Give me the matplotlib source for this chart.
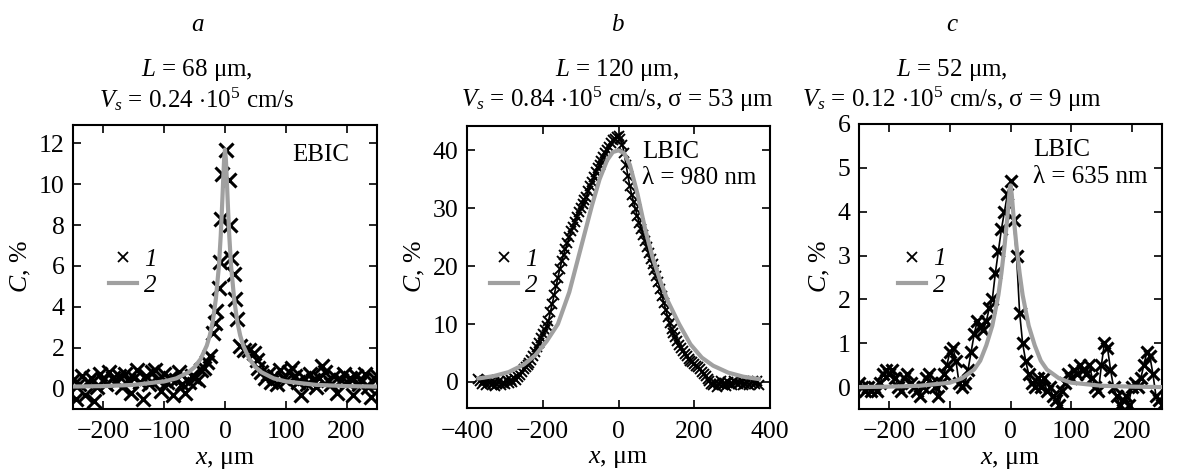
import numpy as np
import matplotlib
matplotlib.use('Agg')
import matplotlib.pyplot as plt
from matplotlib.lines import Line2D

plt.rcParams['font.family'] = ['Liberation Serif', 'DejaVu Serif']
plt.rcParams['mathtext.fontset'] = 'custom'
plt.rcParams['mathtext.rm'] = 'Liberation Serif'
plt.rcParams['mathtext.it'] = 'Liberation Serif:italic'
plt.rcParams['font.size'] = 18

# ---- panel a (EBIC) ----
xa_left = np.arange(-250, -54, 5)
ya_left = [0.4, -0.5, 0.2, 0.6, -0.3, 0.3, 0.5, -0.6, 0.1, 0.7,
           0.4, 0.2, 0.8, 0.5, 0.3, 0.6, 0.1, 0.7, 0.4, -0.2,
           0.5, 0.9, 0.3, -0.5, 0.6, 0.2, 0.8, 0.9, 0.4, -0.1,
           0.7, 0.3, 0.5, -0.3, 0.4, 0.8, 0.2, -0.2, 0.3, 0.6]
xa_mid = [-50, -45, -40, -35, -30, -25, -20, -16, -14, -10, -9, -7, -5,
          2, 7, 8, 10, 15, 17, 20, 25, 32, 40, 47, 52]
ya_mid = [0.5, 0.4, 0.9, 1.0, 1.3, 1.6, 2.7, 3.2, 3.8, 4.9, 6.2, 8.3, 10.5,
          11.7, 10.2, 8.0, 6.4, 5.6, 4.4, 3.4, 2.1, 1.9, 1.9, 1.75, 1.4]
xa_right = np.arange(55, 251, 5)
ya_right = [1.0, 0.8, 0.5, 0.7, 0.3, 0.6, 0.2, 0.9, 0.5, 0.4,
            0.8, 1.0, 0.6, 0.3, -0.3, 0.5, 0.2, 0.7, 0.4, 0.1,
            0.5, 1.1, 0.8, 0.4, 0.2, 0.6, -0.2, 0.4, 0.7, 0.3,
            0.5, -0.3, 0.6, 0.2, 0.4, 0.7, 0.1, -0.4, 0.5, 0.6]
xa = np.concatenate([xa_left, xa_mid, xa_right])
ya = np.concatenate([ya_left, ya_mid, ya_right])

fit_xa = [-250, -200, -150, -100, -80, -60, -50, -40, -30, -25, -20, -15, -10, -7, -5, -3, -1.5, 0,
          1.5, 3, 5, 7, 10, 15, 20, 25, 30, 40, 50, 60, 80, 100, 150, 200, 250]
fit_ya = [0.1, 0.12, 0.18, 0.35, 0.5, 0.8, 1.05, 1.45, 2.1, 2.6, 3.3, 4.4, 6.0, 7.5, 8.8, 10.2, 11.2, 11.7,
          11.2, 10.2, 8.8, 7.5, 6.0, 4.4, 3.3, 2.6, 2.1, 1.45, 1.05, 0.8, 0.5, 0.35, 0.18, 0.12, 0.1]

# ---- panel b (LBIC 980 nm) ----
xb = np.arange(-370, 371, 5)
yb = [0.5, 0.2, -0.4, 0.1, -0.6, 0.3, -0.2, -0.5, 0.0, -0.7,
      -0.3, 0.2, -0.5, -0.1, -0.4, 0.3, -0.2, 0.4, 0.0, 0.6,
      0.3, 0.9, 1.2, 1.8,
      2.3, 2.6, 2.9, 3.2, 3.8, 4.5, 5.2, 6.0, 6.8, 7.6,
      8.3, 9.0, 9.6, 10.5, 12.0, 13.5, 15.0, 16.5, 18.0, 19.5,
      20.8, 22.0, 23.0, 24.0, 25.0, 26.0, 26.8, 27.7, 28.5, 29.3,
      30.0, 30.7, 31.5, 32.0, 33.0, 33.8, 34.6, 35.4, 36.2, 36.9,
      37.5, 38.2, 38.8, 39.5, 40.0, 40.6, 41.2, 41.7, 42.0, 42.3,
      42.5,
      42.0, 41.0, 39.5, 37.5, 35.5, 33.8, 32.3, 31.0, 29.8, 28.6,
      27.5, 26.4, 25.3, 24.3, 23.3, 22.3, 21.3, 20.3, 19.3, 18.3,
      17.2, 16.0, 14.8, 13.6, 12.4, 11.2, 10.1, 9.2, 8.4, 7.7,
      7.0, 6.4, 5.8, 5.3, 4.8, 4.4, 4.0, 3.7, 3.4, 3.1,
      2.8, 2.5, 2.2, 1.8, 1.4, 1.0, 0.5, 0.1,
      -0.3, -0.6, -0.2, -0.8, -0.4, 0.1, -0.5, -0.2, -0.7, 0.0,
      -0.3, -0.6, 0.2, -0.1, -0.4, -0.2, 0.1, -0.5, -0.3, 0.0,
      -0.6, -0.2, 0.2, -0.4, 0.1, -0.5]

fit_xb = [-370, -330, -290, -250, -220, -190, -160, -130, -110, -90, -70, -50, -30, -15, 0,
          15, 30, 50, 70, 90, 110, 130, 160, 190, 220, 250, 290, 330, 370]
fit_yb = [0.6, 1.0, 1.7, 3.0, 4.6, 7.0, 10.0, 15.5, 20.5, 25.5, 30.5, 35.0, 38.3, 39.7, 40.0,
          39.5, 37.5, 32.5, 26.5, 21.5, 17.5, 14.0, 10.0, 6.5, 4.2, 2.8, 1.6, 0.9, 0.5]

# ---- panel c (LBIC 635 nm) ----
xc = np.arange(-250, 251, 5)
yc = [0.1, 0.0, -0.1, 0.0, -0.1, 0.0, -0.1, 0.1, 0.3, 0.4,
      0.3, 0.4, 0.2, 0.0, -0.1, 0.2, 0.3, 0.1, 0.0, -0.1,
      -0.2, 0.0, 0.2, 0.3, 0.1, 0.0, -0.2, 0.1, 0.3, 0.5,
      0.8, 0.9, 0.6, 0.1, 0.0, 0.1, 0.4, 0.8, 1.2, 1.5,
      1.4, 1.3, 1.5, 1.8, 2.0, 2.6, 3.1, 3.6, 4.0, 4.4,
      4.7, 3.8, 3.0, 1.7, 1.0, 0.6, 0.3, 0.1, 0.0, 0.2,
      0.0, 0.2, -0.1, 0.0, -0.2, -0.3, -0.4, -0.1, 0.1, 0.3,
      0.2, 0.4, 0.3, 0.5, 0.4, 0.3, 0.5, 0.2, 0.0, -0.1,
      0.5, 1.0, 0.9, 0.4, 0.0, -0.2, -0.4, -0.3, -0.2, -0.4,
      0.0, 0.1, 0.0, 0.2, 0.5, 0.8, 0.7, 0.3, -0.2, -0.3,
      -0.4]

fit_xc = [-250, -200, -150, -100, -80, -60, -50, -40, -30, -20, -15, -10, -5, -2, 0,
          2, 5, 10, 15, 20, 30, 40, 50, 60, 80, 100, 150, 200, 250]
fit_yc = [0.0, 0.01, 0.03, 0.1, 0.2, 0.4, 0.6, 0.95, 1.4, 2.1, 2.6, 3.2, 3.9, 4.4, 4.6,
          4.4, 3.9, 3.2, 2.6, 2.1, 1.4, 0.95, 0.6, 0.4, 0.2, 0.1, 0.03, 0.01, 0.0]

fit_color = '#a0a0a0'

fig = plt.figure(figsize=(11.79, 4.71), dpi=100)
W, H = 1179.0, 471.0


def make_axes(left_px, right_px, top_px, bottom_px):
    return fig.add_axes([left_px / W, 1 - bottom_px / H,
                         (right_px - left_px) / W, (bottom_px - top_px) / H])


ax_a = make_axes(73, 377, 125, 409)
ax_b = make_axes(467, 770, 126, 408)
ax_c = make_axes(859, 1162, 124, 409)

# data + fits
ax_a.plot(xa, ya, ls='none', marker='x', ms=9.5, mew=2.2, color='k', zorder=2)
ax_a.plot(fit_xa, fit_ya, color=fit_color, lw=3, zorder=3)

ax_b.plot(xb, yb, ls='-', lw=1.2, marker='x', ms=6.5, mew=1.4, color='k', zorder=2)
ax_b.plot(fit_xb, fit_yb, color=fit_color, lw=3, zorder=3)

ax_c.plot(xc, yc, ls='-', lw=1.2, marker='x', ms=9, mew=2.2, color='k', zorder=2)
ax_c.plot(fit_xc, fit_yc, color=fit_color, lw=3, zorder=3)

ax_a.set_xlim(-250, 250)
ax_a.set_ylim(-1, 12.9)
ax_a.set_xticks([-200, -100, 0, 100, 200])
ax_a.set_yticks([0, 2, 4, 6, 8, 10, 12])

ax_b.set_xlim(-400, 400)
ax_b.set_ylim(-4.5, 44.2)
ax_b.set_xticks([-400, -200, 0, 200, 400])
ax_b.set_yticks([0, 10, 20, 30, 40])

ax_c.set_xlim(-250, 250)
ax_c.set_ylim(-0.5, 6)
ax_c.set_xticks([-200, -100, 0, 100, 200])
ax_c.set_yticks([0, 1, 2, 3, 4, 5, 6])

for ax in (ax_a, ax_b, ax_c):
    ax.tick_params(direction='in', top=True, right=True, length=6, width=1.2,
                   labelsize=18.5)
    ax.tick_params(axis='x', pad=9)
    ax.tick_params(axis='y', pad=6)
    for sp in ax.spines.values():
        sp.set_linewidth(1.5)
    ax.set_xlabel(r'$x$, μm', fontsize=18.5, labelpad=4)
    ax.set_ylabel(r'$C$, %', fontsize=18.5, labelpad=4)

# legends
handles = [Line2D([], [], ls='none', marker='x', ms=7, mew=1.3, color='k'),
           Line2D([], [], color=fit_color, lw=3)]
for ax, lx in ((ax_a, 0.12), (ax_b, 0.076), (ax_c, 0.129)):
    ax.legend(handles, ['1', '2'], loc='center left', bbox_to_anchor=(lx, 0.48),
              frameon=False, handlelength=1.1, handletextpad=0.3,
              labelspacing=0.15, borderpad=0, borderaxespad=0,
              prop={'family': 'Liberation Serif', 'style': 'italic', 'size': 18})

# inner annotations
ax_a.text(0.91, 0.894, 'EBIC', transform=ax_a.transAxes, ha='right', va='center', fontsize=18)
ax_b.text(0.578, 0.908, 'LBIC', transform=ax_b.transAxes, ha='left', va='center', fontsize=18)
ax_b.text(0.578, 0.815, 'λ = 980 nm', transform=ax_b.transAxes, ha='left', va='center', fontsize=18)
ax_c.text(0.574, 0.908, 'LBIC', transform=ax_c.transAxes, ha='left', va='center', fontsize=18)
ax_c.text(0.574, 0.815, 'λ = 635 nm', transform=ax_c.transAxes, ha='left', va='center', fontsize=18)

# panel letters and parameter titles
titles = [
    (197, 'a', r'$L$ = 68 μm,', r'$V_s$ = 0.24 $\cdot10^5$ cm/s'),
    (617, 'b', r'$L$ = 120 μm,', r'$V_s$ = 0.84 $\cdot10^5$ cm/s, σ = 53 μm'),
    (952, 'c', r'$L$ = 52 μm,', r'$V_s$ = 0.12 $\cdot10^5$ cm/s, σ = 9 μm'),
]
for cx, letter, line1, line2 in titles:
    fig.text(cx / W, 1 - 25 / H, letter, ha='center', va='center', fontsize=18, style='italic')
    fig.text(cx / W, 1 - 70 / H, line1, ha='center', va='center', fontsize=18)
    fig.text(cx / W, 1 - 99 / H, line2, ha='center', va='center', fontsize=18)

fig.savefig('out.png', dpi=100)
